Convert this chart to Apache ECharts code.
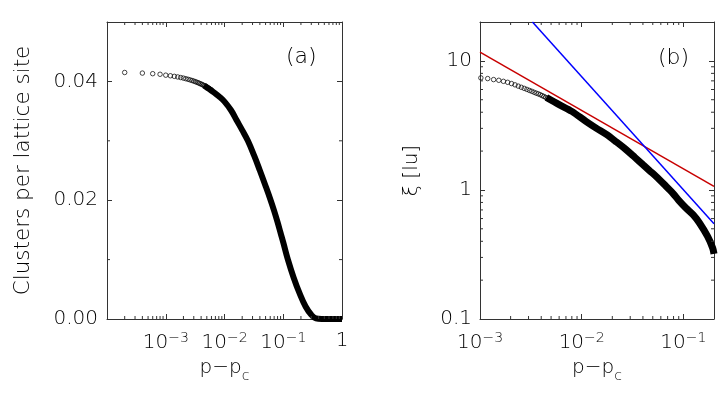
<!DOCTYPE html>
<html>
<head>
<meta charset="utf-8">
<script src="https://cdn.jsdelivr.net/npm/echarts@6/dist/echarts.min.js"></script>
<style>
  html, body { margin: 0; padding: 0; background: #fff; }
  #chart { width: 728px; height: 402px; }
</style>
</head>
<body>
<div id="chart"></div>
<script>
// panel (a): clusters per lattice site vs p - pc
const aCircleX = [0.0002, 0.0004, 0.0006, 0.0008, 0.0010, 0.0012, 0.0014, 0.0016, 0.0018, 0.0020,
  0.0022, 0.0024, 0.0026, 0.0028, 0.0030, 0.0032, 0.0034, 0.0036, 0.0038, 0.0040,
  0.0042, 0.0044, 0.0046, 0.0048, 0.0050, 0.0052, 0.0054, 0.0056, 0.0058, 0.0060];
const aCircleY = [0.04150, 0.04140, 0.04130, 0.04120, 0.04105, 0.04095, 0.04085, 0.04075, 0.04065, 0.04055,
  0.04045, 0.04035, 0.04025, 0.04015, 0.04005, 0.03995, 0.03985, 0.03975, 0.03965, 0.03955,
  0.03945, 0.03935, 0.03925, 0.03915, 0.03905, 0.03895, 0.03885, 0.03875, 0.03865, 0.03855];
const aLineX = [0.0045, 0.0055, 0.0065, 0.008, 0.01, 0.013, 0.016, 0.02, 0.025, 0.032, 0.04, 0.05, 0.06, 0.07, 0.08,
  0.09, 0.1, 0.12, 0.15, 0.19, 0.24, 0.3, 0.36, 0.45, 1];
const aLineY = [0.0393, 0.0387, 0.0382, 0.0375, 0.0366, 0.0351, 0.0335, 0.0318, 0.0300, 0.0275, 0.0250, 0.0224, 0.0202,
  0.0182, 0.0163, 0.0145, 0.0129, 0.0100, 0.0070, 0.0043, 0.0021, 0.0007, 0.0001, 0, 0];

// panel (b): correlation length xi vs p - pc
const bCircleX = [0.00102, 0.00119, 0.00136, 0.00153, 0.00170, 0.00187, 0.00204, 0.00221, 0.00238, 0.00255,
  0.00272, 0.00289, 0.00306, 0.00323, 0.00340, 0.00357, 0.00374, 0.00391, 0.00408, 0.00425,
  0.00442, 0.00459, 0.00476, 0.00493, 0.00510, 0.00527, 0.00544, 0.00561, 0.00578, 0.00595];
const bCircleY = [7.38, 7.29, 7.16, 7.07, 6.94, 6.82, 6.67, 6.52, 6.37, 6.24,
  6.12, 6.01, 5.90, 5.81, 5.71, 5.62, 5.55, 5.47, 5.38, 5.30,
  5.21, 5.14, 5.06, 4.99, 4.92, 4.86, 4.80, 4.74, 4.69, 4.62];
const bLineX = [0.0045, 0.006, 0.008, 0.011, 0.014, 0.0175, 0.022, 0.0274, 0.033, 0.04, 0.047, 0.054, 0.065, 0.0785, 0.09,
  0.106, 0.125, 0.144, 0.173, 0.194, 0.2];
const bLineY = [5.20, 4.58, 4.06, 3.40, 3.00, 2.69, 2.35, 2.05, 1.80, 1.57, 1.40, 1.27, 1.10, 0.946, 0.83,
  0.724, 0.64, 0.554, 0.436, 0.355, 0.32];

// power-law guide lines (end points)
const redX = [0.001, 0.2];
const redY = [11.67, 1.067];
const blueX = [0.00328, 0.2];
const blueY = [20, 0.548];

// ticks
const aYLabelled = [0, 0.02, 0.04];
const aYMinor = [0.01, 0.03];
const minorMult = [2, 3, 4, 5, 6, 7, 8, 9];
const aXDecades = [1e-4, 1e-3, 1e-2, 1e-1];
const bXDecades = [1e-3, 1e-2];
const bYDecades = [0.1, 1];

const FONT = '"DejaVu Sans", sans-serif';
const FW = 200;
const INK = '#000';
const AXC = '#333';
const zip = (xs, ys) => xs.map((x, i) => [x, ys[i]]);
const minors = (decades) => {
  const out = [];
  decades.forEach((d) => minorMult.forEach((m) => out.push(+(d * m).toPrecision(3))));
  return out;
};

const rich = {
  b: { fontSize: 20, fontFamily: FONT, fontWeight: FW, color: INK, verticalAlign: 'bottom' },
  s: { fontSize: 14, fontFamily: FONT, fontWeight: FW, color: INK, verticalAlign: 'top', padding: [0, 0, 8, 0] }
};

const logLabel = (v) => {
  if (v < 1.1e-4) return '';
  const e = Math.log10(v);
  const r = Math.round(e);
  if (Math.abs(e - r) > 1e-6) return '';
  if (r === 0) return '{b|1}';
  return '{b|10}{s|−' + Math.abs(r) + '}';
};

const titleRich = {
  n: { fontSize: 20, fontFamily: FONT, fontWeight: FW, color: INK, verticalAlign: 'top', padding: [0, 0, 5, 0] },
  c: { fontSize: 14, fontFamily: FONT, fontWeight: FW, color: INK, verticalAlign: 'bottom' }
};

const axisLine = { show: true, onZero: false, lineStyle: { color: AXC, width: 1 } };
const tickIn = { show: true, inside: true, length: 5, lineStyle: { color: AXC, width: 1 } };

// minor ticks drawn as tiny bar-shaped symbols sitting on the frame
const TL = 3;
const tickSeries = (xi, yi, points, size, offset) => ({
  type: 'scatter', xAxisIndex: xi, yAxisIndex: yi, data: points, silent: true, clip: false,
  symbol: 'rect', symbolSize: size, symbolOffset: offset,
  itemStyle: { color: AXC, opacity: 1 }, z: 20
});

const aXMinor = minors(aXDecades);
const bXMinor = minors(bXDecades);
const bYMinor = minors(bYDecades);

const option = {
  animation: false,
  backgroundColor: '#fff',
  grid: [
    { left: 107, top: 22, width: 235, height: 297, show: false },
    { left: 480, top: 22, width: 234, height: 297, show: false }
  ],
  xAxis: [
    {
      gridIndex: 0, type: 'log', min: 1e-4, max: 1, position: 'bottom',
      axisLine: axisLine, axisTick: tickIn, splitLine: { show: false },
      axisLabel: { margin: 12, formatter: logLabel, rich: rich, showMinLabel: true, showMaxLabel: true },
      name: '{n|p−p}{c|c}', nameLocation: 'middle', nameGap: 38, nameTextStyle: { rich: titleRich }
    },
    {
      gridIndex: 0, type: 'log', min: 1e-4, max: 1, position: 'top',
      axisLine: axisLine, axisTick: tickIn, axisLabel: { show: false }, splitLine: { show: false }
    },
    {
      gridIndex: 1, type: 'log', min: 1e-3, max: 0.2, position: 'bottom',
      axisLine: axisLine, axisTick: tickIn, splitLine: { show: false },
      axisLabel: { margin: 12, formatter: logLabel, rich: rich, showMinLabel: true, showMaxLabel: true },
      name: '{n|p−p}{c|c}', nameLocation: 'middle', nameGap: 38, nameTextStyle: { rich: titleRich }
    },
    {
      gridIndex: 1, type: 'log', min: 1e-3, max: 0.2, position: 'top',
      axisLine: axisLine, axisTick: tickIn, axisLabel: { show: false }, splitLine: { show: false }
    }
  ],
  yAxis: [
    {
      gridIndex: 0, type: 'value', min: 0, max: 0.05, interval: 0.02, position: 'left',
      axisLine: axisLine, axisTick: tickIn, splitLine: { show: false },
      axisLabel: {
        margin: 9, fontSize: 20, fontFamily: FONT, fontWeight: FW, color: INK,
        formatter: (v) => (aYLabelled.some((t) => Math.abs(t - v) < 1e-9) ? v.toFixed(2) : '')
      },
      name: 'Clusters per lattice site', nameLocation: 'middle', nameGap: 73,
      nameTextStyle: { fontSize: 21.5, fontFamily: FONT, fontWeight: FW, color: INK }
    },
    {
      gridIndex: 0, type: 'value', min: 0, max: 0.05, interval: 0.02, position: 'right',
      axisLine: axisLine, axisTick: tickIn, axisLabel: { show: false }, splitLine: { show: false }
    },
    {
      gridIndex: 1, type: 'log', min: 0.1, max: 20, position: 'left',
      axisLine: axisLine, axisTick: tickIn, splitLine: { show: false },
      axisLabel: {
        margin: 8, fontSize: 20, fontFamily: FONT, fontWeight: FW, color: INK,
        formatter: (v) => {
          const e = Math.log10(v);
          return Math.abs(e - Math.round(e)) < 1e-6 ? String(+v.toPrecision(3)) : '';
        }
      },
      name: 'ξ [lu]', nameLocation: 'middle', nameGap: 58,
      nameTextStyle: { fontSize: 20, fontFamily: FONT, fontWeight: FW, color: INK }
    },
    {
      gridIndex: 1, type: 'log', min: 0.1, max: 20, position: 'right',
      axisLine: axisLine, axisTick: tickIn, axisLabel: { show: false }, splitLine: { show: false }
    }
  ],
  series: [
    {
      type: 'line', xAxisIndex: 0, yAxisIndex: 0, data: zip(aLineX, aLineY),
      showSymbol: false, smooth: 0.4, lineStyle: { color: '#000', width: 6 }, z: 3
    },
    {
      type: 'scatter', xAxisIndex: 0, yAxisIndex: 0, data: zip(aCircleX, aCircleY),
      symbol: 'circle', symbolSize: 4.5,
      itemStyle: { color: 'rgba(0,0,0,0)', borderColor: '#000', borderWidth: 0.9 }, z: 4
    },
    {
      type: 'line', xAxisIndex: 2, yAxisIndex: 2, data: zip(bLineX, bLineY),
      showSymbol: false, smooth: 0.3, lineStyle: { color: '#000', width: 7 }, z: 3
    },
    {
      type: 'scatter', xAxisIndex: 2, yAxisIndex: 2, data: zip(bCircleX, bCircleY),
      symbol: 'circle', symbolSize: 4.5,
      itemStyle: { color: 'rgba(0,0,0,0)', borderColor: '#000', borderWidth: 0.9 }, z: 4
    },
    {
      type: 'line', xAxisIndex: 2, yAxisIndex: 2, data: zip(redX, redY),
      showSymbol: false, lineStyle: { color: '#c80000', width: 1.5 }, z: 5
    },
    {
      type: 'line', xAxisIndex: 2, yAxisIndex: 2, data: zip(blueX, blueY),
      showSymbol: false, lineStyle: { color: '#0000ff', width: 1.5 }, z: 5
    },
    // panel (a) minor ticks
    tickSeries(0, 0, aXMinor.map((v) => [v, 0]), [1, TL], [0, -TL / 2]),
    tickSeries(0, 0, aXMinor.map((v) => [v, 0.05]), [1, TL], [0, TL / 2]),
    tickSeries(0, 0, aYMinor.map((v) => [1e-4, v]), [TL, 1], [TL / 2, 0]),
    tickSeries(0, 0, aYMinor.map((v) => [1, v]), [TL, 1], [-TL / 2, 0]),
    // panel (b) minor ticks
    tickSeries(2, 2, bXMinor.map((v) => [v, 0.1]), [1, TL], [0, -TL / 2]),
    tickSeries(2, 2, bXMinor.map((v) => [v, 20]), [1, TL], [0, TL / 2]),
    tickSeries(2, 2, bYMinor.map((v) => [1e-3, v]), [TL, 1], [TL / 2, 0]),
    tickSeries(2, 2, bYMinor.map((v) => [0.2, v]), [TL, 1], [-TL / 2, 0])
  ],
  graphic: [
    { type: 'text', left: 286, top: 46, style: { text: '(a)', fontSize: 22, fontFamily: FONT, fontWeight: FW, fill: INK } },
    { type: 'text', left: 658, top: 47, style: { text: '(b)', fontSize: 22, fontFamily: FONT, fontWeight: FW, fill: INK } }
  ]
};

const chart = echarts.init(document.getElementById('chart'), null, { renderer: 'canvas' });
chart.setOption(option);
</script>
</body>
</html>
